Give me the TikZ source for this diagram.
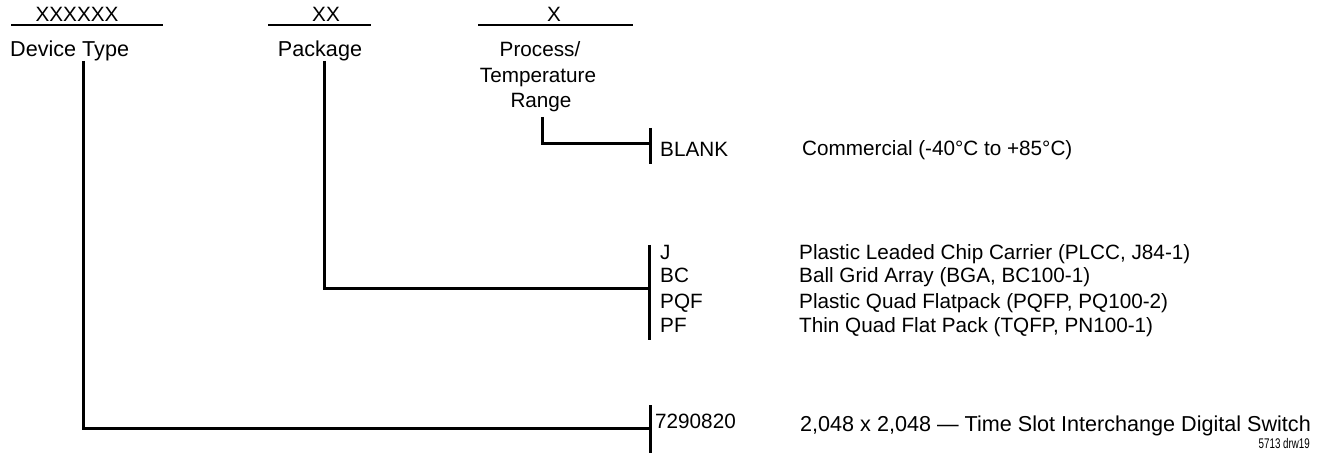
\documentclass[tikz,border=0pt]{standalone}
\usepackage{fontspec}
\setmainfont{Liberation Sans}
\begin{document}
\begin{tikzpicture}[x=1pt,y=-1pt,
  lbl/.style={inner sep=0pt, font=\fontsize{20.7}{24}\selectfont},
  biglbl/.style={inner sep=0pt, font=\fontsize{21.6}{24}\selectfont},
  small/.style={inner sep=0pt, font=\fontsize{14}{15}\selectfont, xscale=0.7},
  conn/.style={line width=3pt, line join=miter},
  uline/.style={line width=2pt},
  tickline/.style={line width=3pt}]
\useasboundingbox (0,0) rectangle (1327,462);

% header fields
\node[lbl,anchor=base] (x6) at (77,22) {XXXXXX};
\node[lbl,anchor=base] (x2) at (326,22) {XX};
\node[lbl,anchor=base] (x1) at (554,22) {X};
\coordinate (u6a) at (11,25);  \coordinate (u6b) at (163,25);
\coordinate (u2a) at (268,25); \coordinate (u2b) at (371,25);
\coordinate (u1a) at (478,25); \coordinate (u1b) at (633,25);
\draw[uline] (u6a) -- (u6b);
\draw[uline] (u2a) -- (u2b);
\draw[uline] (u1a) -- (u1b);

\node[biglbl,anchor=base west] (dev) at (10,57) {Device Type};
\node[biglbl,anchor=base] (pkg) at (320,57) {Package};
\node[lbl,anchor=base] (proc1) at (540,57) {Process/};
\node[lbl,anchor=base] (proc2) at (538,82.5) {Temperature};
\node[lbl,anchor=base] (proc3) at (541,108) {Range};

% option codes
\node[lbl,anchor=base west] (blank) at (660,157) {BLANK};
\node[lbl,anchor=base west] (cj) at (660,259) {J};
\node[lbl,anchor=base west] (cbc) at (660,283) {BC};
\node[lbl,anchor=base west] (cpqf) at (660,308) {PQF};
\node[lbl,anchor=base west] (cpf) at (660,332) {PF};
\node[lbl,anchor=base west] (dt) at (655,428) {7290820};

% descriptions
\node[lbl,anchor=base west] (dcom) at (802,156) {Commercial (-40°C to +85°C)};
\node[lbl,anchor=base west] (dj) at (799,259) {Plastic Leaded Chip Carrier (PLCC, J84-1)};
\node[lbl,anchor=base west] (dbc) at (799,283) {Ball Grid Array (BGA, BC100-1)};
\node[lbl,anchor=base west] (dpqf) at (799,308) {Plastic Quad Flatpack (PQFP, PQ100-2)};
\node[lbl,anchor=base west] (dpf) at (799,332) {Thin Quad Flat Pack (TQFP, PN100-1)};
\node[biglbl,anchor=base west] (ddt) at (800,431) {2,048 x 2,048 — Time Slot Interchange Digital Switch};
\node[small,anchor=base east] (drw) at (1310,448) {5713 drw19};

% connectors
\coordinate (devtop) at (83,61);
\coordinate (devcorner) at (83,428);
\coordinate (devend) at (650,428);
\coordinate (devtickA) at (650,405);
\coordinate (devtickB) at (650,453);
\draw[conn] (devtop) -- (devcorner) -- (devend);
\draw[tickline] (devtickA) -- (devtickB);

\coordinate (pkgtop) at (324,61);
\coordinate (pkgcorner) at (324,288);
\coordinate (pkgend) at (649,288);
\coordinate (pkgtickA) at (649,245);
\coordinate (pkgtickB) at (649,340);
\draw[conn] (pkgtop) -- (pkgcorner) -- (pkgend);
\draw[tickline] (pkgtickA) -- (pkgtickB);

\coordinate (proctop) at (542,117);
\coordinate (proccorner) at (542,144);
\coordinate (procend) at (650,144);
\coordinate (proctickA) at (650,128);
\coordinate (proctickB) at (650,164);
\draw[conn] (proctop) -- (proccorner) -- (procend);
\draw[tickline] (proctickA) -- (proctickB);
\end{tikzpicture}
\end{document}
